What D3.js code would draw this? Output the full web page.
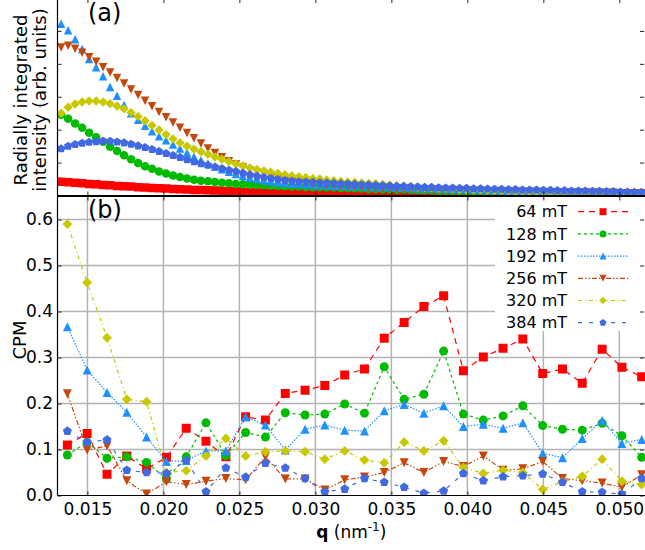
<!DOCTYPE html>
<html>
<head>
<meta charset="utf-8">
<script src="https://cdn.jsdelivr.net/npm/d3@7"></script>
<style>
  body { margin: 0; background: #fff; }
  svg { display: block; font-family: 'DejaVu Sans', sans-serif; }
</style>
</head>
<body>
<svg id="chart" width="645" height="550"></svg>
<script>
// ---- data ----
const fieldLabels = ['64 mT', '128 mT', '192 mT', '256 mT', '320 mT', '384 mT'];

// panel (b): CPM per q
const qCpm = [0.01368, 0.01498, 0.01629, 0.01759, 0.01889, 0.02020, 0.02150, 0.02280, 0.02411, 0.02541,
  0.02671, 0.02802, 0.02932, 0.03062, 0.03193, 0.03323, 0.03453, 0.03584, 0.03714, 0.03844,
  0.03974, 0.04105, 0.04235, 0.04365, 0.04496, 0.04626, 0.04756, 0.04887, 0.05017, 0.05147];
const cpm64 = [0.110, 0.135, 0.046, 0.086, 0.058, 0.083, 0.146, 0.118, 0.084, 0.171, 0.164, 0.222, 0.229, 0.239, 0.262,
  0.275, 0.342, 0.376, 0.411, 0.434, 0.271, 0.301, 0.320, 0.340, 0.265, 0.275, 0.244, 0.318, 0.279, 0.258];
const cpm128 = [0.088, 0.116, 0.081, 0.084, 0.072, 0.036, 0.084, 0.158, 0.087, 0.137, 0.127, 0.180, 0.175, 0.177, 0.199,
  0.179, 0.280, 0.209, 0.220, 0.314, 0.177, 0.164, 0.173, 0.195, 0.152, 0.144, 0.142, 0.157, 0.130, 0.083];
const cpm192 = [0.367, 0.273, 0.224, 0.181, 0.127, 0.074, 0.076, 0.097, 0.097, 0.171, 0.153, 0.099, 0.144, 0.153, 0.142,
  0.140, 0.184, 0.198, 0.179, 0.195, 0.150, 0.155, 0.146, 0.158, 0.092, 0.082, 0.124, 0.163, 0.113, 0.122];
const cpm256 = [0.221, 0.099, 0.108, 0.032, 0.003, 0.030, 0.024, 0.031, 0.037, 0.034, 0.084, 0.036, 0.036, 0.012, 0.034,
  0.040, 0.050, 0.071, 0.050, 0.074, 0.063, 0.086, 0.055, 0.058, 0.074, 0.037, 0.032, 0.027, 0.018, 0.045];
const cpm320 = [0.590, 0.463, 0.343, 0.209, 0.204, 0.050, 0.054, 0.086, 0.124, 0.086, 0.095, 0.097, 0.095, 0.079, 0.097,
  0.077, 0.071, 0.116, 0.097, 0.119, 0.061, 0.048, 0.055, 0.050, 0.013, 0.030, 0.042, 0.079, 0.031, 0.024];
const cpm384 = [0.140, 0.116, 0.121, 0.055, 0.050, 0.048, 0.076, 0.008, 0.060, 0.040, 0.070, 0.060, 0.037, 0.008, 0.014,
  0.037, 0.029, 0.018, 0.005, 0.010, 0.048, 0.032, 0.041, 0.043, 0.047, 0.029, 0.008, 0.007, 0.003, 0.037];

// panel (a): radially integrated intensity (arb. units)
const qInt = [0.01327, 0.01373, 0.01419, 0.01465, 0.01511, 0.01557, 0.01603, 0.01649, 0.01695, 0.01741,
  0.01787, 0.01833, 0.01879, 0.01925, 0.01971, 0.02017, 0.02063, 0.02109, 0.02155, 0.02201,
  0.02247, 0.02293, 0.02339, 0.02385, 0.02431, 0.02477, 0.02523, 0.02569, 0.02615, 0.02661,
  0.02707, 0.02753, 0.02799, 0.02845, 0.02891, 0.02937, 0.02983, 0.03029, 0.03075, 0.03121,
  0.03167, 0.03213, 0.03259, 0.03305, 0.03351, 0.03397, 0.03443, 0.03489, 0.03535, 0.03581,
  0.03627, 0.03673, 0.03719, 0.03765, 0.03811, 0.03857, 0.03903, 0.03949, 0.03995, 0.04041,
  0.04087, 0.04133, 0.04179, 0.04225, 0.04271, 0.04317, 0.04363, 0.04409, 0.04455, 0.04501,
  0.04547, 0.04593, 0.04639, 0.04685, 0.04731, 0.04777, 0.04823, 0.04869, 0.04915, 0.04961,
  0.05007, 0.05053, 0.05099, 0.05145];
const int64 = [0.42, 0.40, 0.39, 0.37, 0.35, 0.34, 0.32, 0.31, 0.29, 0.28, 0.27, 0.25, 0.24, 0.23, 0.22, 0.21, 0.20, 0.19,
  0.18, 0.17, 0.17, 0.16, 0.15, 0.14, 0.13, 0.12, 0.11, 0.10, 0.09, 0.08, 0.08, 0.07, 0.07, 0.06, 0.06, 0.05,
  0.05, 0.05, 0.05, 0.05, 0.04, 0.04, 0.04, 0.04, 0.04, 0.04, 0.04, 0.04, 0.03, 0.03, 0.03, 0.03, 0.03, 0.03,
  0.03, 0.03, 0.03, 0.03, 0.03, 0.03, 0.03, 0.03, 0.03, 0.03, 0.03, 0.03, 0.03, 0.02, 0.02, 0.02, 0.02, 0.02,
  0.02, 0.02, 0.02, 0.02, 0.02, 0.02, 0.02, 0.02, 0.02, 0.02, 0.02, 0.02];
const int128 = [2.45, 2.33, 2.19, 2.06, 1.91, 1.77, 1.63, 1.48, 1.35, 1.22, 1.10, 0.99, 0.89, 0.81, 0.73, 0.67, 0.61, 0.56,
  0.52, 0.48, 0.45, 0.43, 0.41, 0.39, 0.37, 0.35, 0.34, 0.33, 0.32, 0.31, 0.30, 0.29, 0.28, 0.27, 0.27, 0.26,
  0.25, 0.25, 0.24, 0.24, 0.23, 0.22, 0.22, 0.21, 0.20, 0.20, 0.19, 0.19, 0.18, 0.18, 0.17, 0.16, 0.16, 0.15,
  0.14, 0.14, 0.13, 0.12, 0.12, 0.11, 0.11, 0.10, 0.10, 0.09, 0.09, 0.09, 0.08, 0.08, 0.08, 0.07, 0.07, 0.07,
  0.07, 0.06, 0.06, 0.06, 0.06, 0.06, 0.05, 0.05, 0.05, 0.05, 0.05, 0.05];
const int192 = [5.22, 5.02, 4.75, 4.45, 4.15, 3.90, 3.62, 3.30, 3.03, 2.75, 2.50, 2.30, 2.12, 1.95, 1.80, 1.68, 1.55, 1.43,
  1.30, 1.18, 1.07, 0.97, 0.88, 0.80, 0.72, 0.65, 0.59, 0.54, 0.50, 0.46, 0.43, 0.40, 0.38, 0.36, 0.35, 0.34,
  0.33, 0.32, 0.31, 0.30, 0.30, 0.29, 0.28, 0.28, 0.27, 0.26, 0.26, 0.25, 0.24, 0.24, 0.23, 0.22, 0.22, 0.21,
  0.21, 0.20, 0.20, 0.19, 0.18, 0.18, 0.17, 0.17, 0.16, 0.16, 0.15, 0.15, 0.14, 0.14, 0.14, 0.13, 0.13, 0.12,
  0.12, 0.12, 0.11, 0.11, 0.11, 0.10, 0.10, 0.10, 0.09, 0.09, 0.09, 0.09];
const int256 = [4.50, 4.55, 4.46, 4.34, 4.20, 4.06, 3.90, 3.74, 3.57, 3.40, 3.22, 3.05, 2.88, 2.71, 2.54, 2.38, 2.22, 2.06,
  1.90, 1.74, 1.58, 1.43, 1.29, 1.16, 1.04, 0.94, 0.85, 0.77, 0.70, 0.64, 0.58, 0.53, 0.49, 0.45, 0.42, 0.39,
  0.37, 0.35, 0.33, 0.31, 0.30, 0.28, 0.27, 0.26, 0.25, 0.24, 0.23, 0.22, 0.21, 0.20, 0.19, 0.19, 0.18, 0.17,
  0.17, 0.16, 0.16, 0.15, 0.15, 0.14, 0.14, 0.13, 0.13, 0.12, 0.12, 0.12, 0.11, 0.11, 0.11, 0.10, 0.10, 0.10,
  0.09, 0.09, 0.09, 0.09, 0.08, 0.08, 0.08, 0.08, 0.07, 0.07, 0.07, 0.07];
const int320 = [2.50, 2.68, 2.78, 2.84, 2.87, 2.87, 2.84, 2.79, 2.72, 2.63, 2.52, 2.40, 2.27, 2.13, 1.99, 1.85, 1.72, 1.60,
  1.50, 1.41, 1.33, 1.25, 1.17, 1.10, 1.03, 0.96, 0.90, 0.84, 0.79, 0.75, 0.71, 0.67, 0.63, 0.60, 0.57, 0.55,
  0.52, 0.50, 0.47, 0.45, 0.43, 0.41, 0.40, 0.38, 0.37, 0.36, 0.34, 0.32, 0.30, 0.28, 0.27, 0.25, 0.24, 0.23,
  0.22, 0.21, 0.20, 0.19, 0.18, 0.17, 0.17, 0.16, 0.15, 0.15, 0.14, 0.13, 0.13, 0.12, 0.12, 0.11, 0.11, 0.10,
  0.10, 0.10, 0.09, 0.09, 0.09, 0.08, 0.08, 0.08, 0.07, 0.07, 0.07, 0.07];
const int384 = [1.42, 1.50, 1.55, 1.59, 1.62, 1.64, 1.65, 1.65, 1.63, 1.60, 1.56, 1.51, 1.46, 1.40, 1.34, 1.28, 1.22, 1.16,
  1.09, 1.03, 0.97, 0.92, 0.87, 0.82, 0.77, 0.73, 0.68, 0.63, 0.59, 0.55, 0.52, 0.49, 0.46, 0.44, 0.42, 0.41,
  0.40, 0.39, 0.38, 0.37, 0.36, 0.35, 0.34, 0.33, 0.32, 0.31, 0.30, 0.29, 0.28, 0.28, 0.27, 0.26, 0.25, 0.25,
  0.24, 0.23, 0.23, 0.22, 0.22, 0.21, 0.21, 0.20, 0.19, 0.19, 0.18, 0.18, 0.17, 0.17, 0.17, 0.16, 0.16, 0.15,
  0.15, 0.14, 0.14, 0.14, 0.13, 0.13, 0.12, 0.12, 0.11, 0.11, 0.10, 0.10];

const qTicks = [0.015, 0.020, 0.025, 0.030, 0.035, 0.040, 0.045, 0.050];
const cpmTicks = [0.0, 0.1, 0.2, 0.3, 0.4, 0.5, 0.6];
const intTicks = [1, 2, 3, 4, 5];

const cpmSeries = [cpm64, cpm128, cpm192, cpm256, cpm320, cpm384];
const intSeries = [int64, int128, int192, int256, int320, int384];

// ---- styles ----
const colors = ['#ff0000', '#00bb00', '#1e90ff', '#c4470c', '#c8c800', '#4169e1'];
const markers = ['square', 'circle', 'up', 'down', 'diamond', 'pentagon'];
const dashes = ['6,5', '3,3', '1.5,1.5', '5,2,1.5,2,1.5,2', '4,3,1,3', '4,7'];

const svg = d3.select('#chart');
const left = 57.5, right = 645;

const x = d3.scaleLinear().domain([0.01303, 0.05169]).range([left, right]);
const yTop = d3.scaleLinear().domain([0, 6]).range([195.5, -2]);
const yBot = d3.scaleLinear().domain([0, 0.65]).range([495.5, 196.5]);

function markerPath(kind, s) {
  const h = s / 2;
  if (kind === 'square') return `M${-h},${-h}H${h}V${h}H${-h}Z`;
  if (kind === 'circle') return d3.symbol(d3.symbolCircle, Math.PI * h * h)();
  if (kind === 'up') return `M0,${-h}L${h},${h}L${-h},${h}Z`;
  if (kind === 'down') return `M0,${h}L${h},${-h}L${-h},${-h}Z`;
  if (kind === 'diamond') { const d = h * 1.1; return `M0,${-d}L${d},0L0,${d}L${-d},0Z`; }
  // pentagon
  const r = h * 1.05;
  return d3.range(5).map((k, i) => {
    const a = (-90 + 72 * k) * Math.PI / 180;
    return (i ? 'L' : 'M') + (r * Math.cos(a)).toFixed(2) + ',' + (r * Math.sin(a)).toFixed(2);
  }).join('') + 'Z';
}

const defs = svg.append('defs');
defs.append('clipPath').attr('id', 'clipTop').append('rect')
  .attr('x', left).attr('y', -5).attr('width', right - left).attr('height', 200.5);
defs.append('clipPath').attr('id', 'clipBot').append('rect')
  .attr('x', left).attr('y', yBot(0.65)).attr('width', right - left).attr('height', yBot(0) - yBot(0.65));

// ---- panel (b) grid ----
const grid = svg.append('g').attr('stroke', '#b4b4b4').attr('stroke-width', 1.5);
grid.selectAll('.gx').data(qTicks).enter().append('line')
  .attr('x1', d => x(d)).attr('x2', d => x(d)).attr('y1', yBot(0.65)).attr('y2', yBot(0));
grid.selectAll('.gy').data(cpmTicks.slice(1)).enter().append('line')
  .attr('x1', left).attr('x2', right).attr('y1', d => yBot(d)).attr('y2', d => yBot(d));

// ---- panel (a) markers ----
const topG = svg.append('g').attr('clip-path', 'url(#clipTop)');
intSeries.forEach((vals, s) => {
  const path = markerPath(markers[s], 8.5);
  topG.append('g').selectAll('path').data(vals).enter().append('path')
    .attr('d', path)
    .attr('transform', (d, i) => `translate(${x(qInt[i])},${yTop(d)})`)
    .attr('fill', colors[s]);
});

// ---- panel (b) lines + markers ----
const botG = svg.append('g').attr('clip-path', 'url(#clipBot)');
cpmSeries.forEach((vals, s) => {
  const line = d3.line().x((d, i) => x(qCpm[i])).y(d => yBot(d));
  botG.append('path').datum(vals)
    .attr('d', line).attr('fill', 'none')
    .attr('stroke', colors[s]).attr('stroke-width', 1.2)
    .attr('stroke-dasharray', dashes[s]);
  const path = markerPath(markers[s], 9);
  botG.append('g').selectAll('path').data(vals).enter().append('path')
    .attr('d', path)
    .attr('transform', (d, i) => `translate(${x(qCpm[i])},${yBot(d)})`)
    .attr('fill', colors[s]);
});

// ---- legend ----
const legend = svg.append('g');
legend.append('rect').attr('x', 495).attr('y', 198).attr('width', 155).attr('height', 133).attr('fill', '#fff');
fieldLabels.forEach((lab, s) => {
  const yy = 211.7 + s * 22.2;
  legend.append('line').attr('x1', 578).attr('x2', 628).attr('y1', yy).attr('y2', yy)
    .attr('stroke', colors[s]).attr('stroke-width', 1.2).attr('stroke-dasharray', dashes[s]);
  legend.append('path').attr('d', markerPath(markers[s], 7))
    .attr('transform', `translate(603,${yy})`).attr('fill', colors[s]);
  legend.append('text').attr('x', 567).attr('y', yy).attr('dy', '0.35em')
    .attr('text-anchor', 'end').attr('font-size', 16).text(lab);
});

// ---- axes ----
function styleAxis(g) {
  g.selectAll('.domain').remove();
  g.selectAll('.tick line').attr('stroke', '#222');
  g.selectAll('.tick text').attr('font-size', 17).attr('fill', '#000')
    .attr('font-family', "'DejaVu Sans', sans-serif");
}
// panel (a)
svg.append('g').attr('transform', `translate(${left},0)`)
  .call(d3.axisLeft(yTop).tickValues(intTicks).tickSize(-4).tickFormat('')).call(styleAxis);
svg.append('g').attr('transform', `translate(${right - 1},0)`)
  .call(d3.axisRight(yTop).tickValues(intTicks).tickSize(-4).tickFormat('')).call(styleAxis);
svg.append('g').attr('transform', `translate(0,${yTop(6)})`)
  .call(d3.axisTop(x).tickValues(qTicks).tickSize(-5).tickFormat('')).call(styleAxis);
svg.append('g').attr('transform', `translate(0,${yTop(0)})`)
  .call(d3.axisBottom(x).tickValues(qTicks).tickSize(-4).tickFormat('')).call(styleAxis);
// panel (b)
svg.append('g').attr('transform', `translate(${left},0)`)
  .call(d3.axisLeft(yBot).tickValues(cpmTicks).tickSize(-4).tickPadding(4.5).tickFormat(d3.format('.1f'))).call(styleAxis);
svg.append('g').attr('transform', `translate(${right - 1},0)`)
  .call(d3.axisRight(yBot).tickValues(cpmTicks).tickSize(-4).tickFormat('')).call(styleAxis);
svg.append('g').attr('transform', `translate(0,${yBot(0.65)})`)
  .call(d3.axisTop(x).tickValues(qTicks).tickSize(-4).tickFormat('')).call(styleAxis);
svg.append('g').attr('transform', `translate(0,${yBot(0)})`)
  .call(d3.axisBottom(x).tickValues(qTicks).tickSize(-4).tickPadding(7).tickFormat(d3.format('.3f'))).call(styleAxis);

// spines
const spines = svg.append('g').attr('stroke', '#000').attr('stroke-width', 1.2).attr('fill', 'none');
spines.append('line').attr('x1', left).attr('x2', left).attr('y1', -2).attr('y2', yBot(0));
spines.append('line').attr('x1', left).attr('x2', right).attr('y1', yTop(0)).attr('y2', yTop(0));
spines.append('line').attr('x1', left).attr('x2', right).attr('y1', yBot(0.65)).attr('y2', yBot(0.65));
spines.append('line').attr('x1', left).attr('x2', right).attr('y1', yBot(0)).attr('y2', yBot(0));

// ---- labels ----
svg.append('text').attr('x', 88).attr('y', 21).attr('font-size', 24).text('(a)');
svg.append('text').attr('x', 88).attr('y', 218).attr('font-size', 24).text('(b)');

const yLabA = svg.append('text').attr('transform', 'translate(0,100) rotate(-90)')
  .attr('text-anchor', 'middle').attr('font-size', 18);
yLabA.append('tspan').attr('x', 0).attr('y', 27).text('Radially integrated');
yLabA.append('tspan').attr('x', 0).attr('y', 46).text('intensity (arb. units)');

svg.append('text').attr('transform', `translate(26,${(yBot(0) + yBot(0.65)) / 2 - 6}) rotate(-90)`)
  .attr('text-anchor', 'middle').attr('font-size', 18).text('CPM');

const xLab = svg.append('text').attr('x', (left + right) / 2).attr('y', 538)
  .attr('text-anchor', 'middle').attr('font-size', 17);
xLab.append('tspan').attr('font-weight', 'bold').text('q');
xLab.append('tspan').text(' (nm');
xLab.append('tspan').attr('font-size', 12).attr('dy', -7).text('-1');
xLab.append('tspan').attr('dy', 7).text(')');
</script>
</body>
</html>
